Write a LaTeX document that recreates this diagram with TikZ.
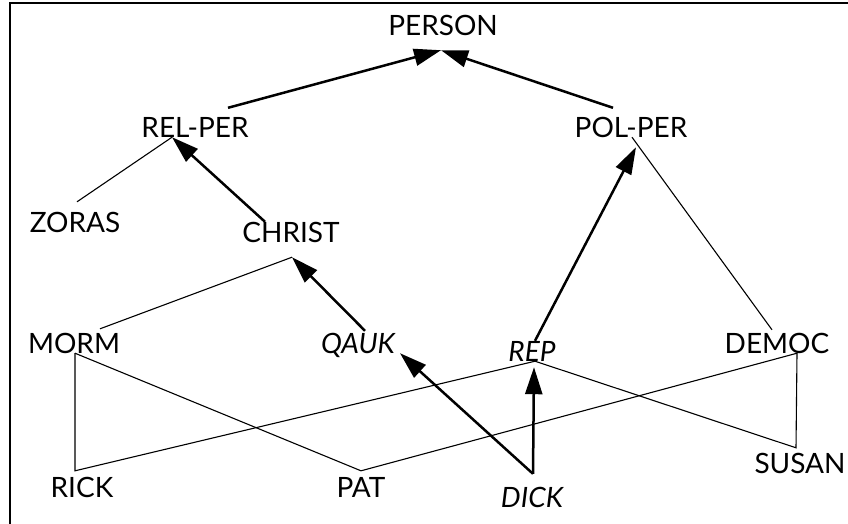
\documentclass[tikz,border=0pt]{standalone}
\usepackage{fontspec}
\setmainfont{Lato}
\usepackage{tikz}
\usetikzlibrary{arrows,arrows.meta,shapes,positioning}

\begin{document}
\begin{tikzpicture}[x=1pt, y=-1pt,
    lbl/.style={inner sep=0pt, anchor=base, text height=20pt, text depth=0pt,
      font=\fontsize{28pt}{30pt}\selectfont},
    isa/.style={line width=2.5pt, -{Triangle[length=27pt,width=17pt]}},
    link/.style={line width=1.1pt}]
      \useasboundingbox (0,0) rectangle (848,523);
      \draw[line width=1.6pt] (10,540) -- (10,3) -- (860,3); % frame
      \node[lbl] (person) at (443,35) {PERSON}; % top
      \node[lbl] (relper) at (195,137) {REL-PER};
      \node[lbl] (polper) at (631,137) {POL-PER};
      \node[lbl] (zoras) at (75,232) {ZORAS};
      \node[lbl] (christ) at (291,242) {CHRIST};
      \node[lbl] (morm) at (74,353) {MORM};
      \node[lbl] (qauk) at (358,353) {\itshape QAUK};
      \node[lbl] (rep) at (532,361) {\itshape REP};
      \node[lbl] (democ) at (777,353) {DEMOC};
      \node[lbl] (susan) at (800,473) {SUSAN};
      \node[lbl] (rick) at (82,497) {RICK};
      \node[lbl] (pat) at (361,497) {PAT};
      \node[lbl] (dick) at (532,507) {\itshape DICK}; % bottom
      % meeting points
      \coordinate (persontip) at ([xshift=-2pt,yshift=-15pt]person.south);
      \coordinate (relpertip) at ([xshift=-23pt]relper.south);
      \coordinate (christtip) at ([xshift=1pt,yshift=-15pt]christ.south);
      \coordinate (polpertip) at ([xshift=5pt,yshift=-10pt]polper.south);
      \coordinate (mormlow) at ([xshift=1pt]morm.south);
      \coordinate (replow) at ([xshift=3pt]rep.south);
      \coordinate (democlow) at ([xshift=20pt]democ.south);
      \coordinate (ricktop) at ([xshift=-7pt,yshift=6pt]rick.north);
      \coordinate (pattop) at ([yshift=6pt]pat.north);
      \coordinate (susantop) at ([xshift=-4pt,yshift=5pt]susan.north);
      \coordinate (dicktop) at ([xshift=1pt,yshift=13pt]dick.north);
      % thick links
      \draw[isa] ([xshift=33pt,yshift=9pt]relper.north) -- (persontip);
      \draw[isa] ([xshift=-18pt,yshift=9pt]polper.north) -- (persontip);
      \draw[isa] ([xshift=-26pt]christ.north) -- (relpertip);
      \draw[isa] ([xshift=7pt,yshift=2pt]qauk.north) -- (christtip);
      \draw[isa] ([xshift=3pt]rep.north) -- (polpertip);
      \draw[isa] (dicktop) -- ([xshift=42pt]qauk.south);
      \draw[isa] (dicktop) -- ([xshift=2pt,yshift=-6pt]rep.south);
      % thin links
      \draw[link] (relpertip) -- ([xshift=2pt,yshift=10pt]zoras.north);
      \draw[link] (christtip) -- ([xshift=26pt,yshift=4pt]morm.north);
      \draw[link] ([xshift=1pt]polper.south) -- ([xshift=-5pt,yshift=3pt]democ.north);
      \draw[link] (mormlow) -- (ricktop) -- (replow);
      \draw[link] (mormlow) -- (pattop) -- (democlow);
      \draw[link] (replow) -- (susantop) -- (democlow);
    \end{tikzpicture}
\end{document}
